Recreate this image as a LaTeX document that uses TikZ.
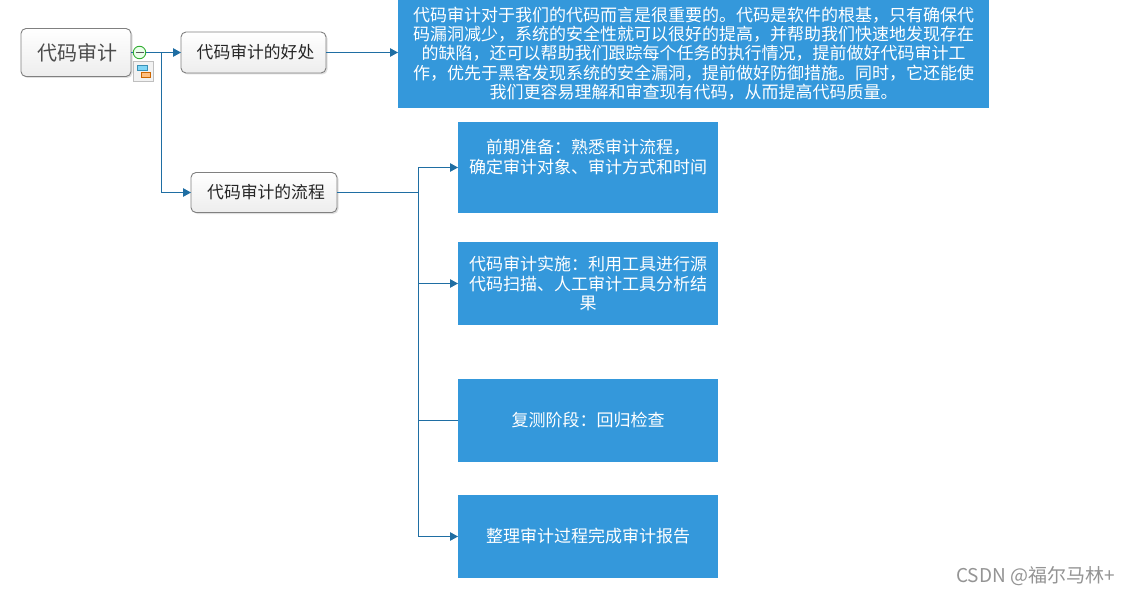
\documentclass[tikz,border=0pt]{standalone}
\usepackage{fontspec}
\setmainfont{Noto Sans CJK SC}
\usetikzlibrary{arrows.meta,shadows}
\definecolor{boxblue}{HTML}{3498DB}
\definecolor{linkblue}{HTML}{1F6EA3}
\newcommand{\fwc}{\symbol{"FF0C}}
\newcommand{\fwk}{\symbol{"FF1A}}
\tikzset{
  conn/.style={draw=linkblue,line width=1.05pt},
  arrowconn/.style={conn,-{Triangle[length=8pt,width=8.5pt]}},
  topic/.style={rectangle,rounded corners=5pt,draw=black!50,line width=0.9pt,
    top color=white,bottom color=black!7,inner sep=0pt,outer sep=0pt,
    drop shadow={shadow xshift=1.5pt,shadow yshift=-1.5pt,fill=black,opacity=0.12},
    text=black!85},
  infobox/.style={rectangle,fill=boxblue,text=white,inner sep=0pt,outer sep=0pt,
    align=center,minimum width=260pt,font=\fontsize{17}{19.3}\selectfont},
}
\begin{document}
\begin{tikzpicture}[x=1pt,y=-1pt]
\useasboundingbox (0,0) rectangle (1130,594);
\fill[white] (0,0) rectangle (1130,594);
% topics
\node[topic,minimum width=110pt,minimum height=48pt,font=\fontsize{20}{22}\selectfont,text=black!70] (root) at (76,52.5) {\hspace*{4pt}代码审计};
\node[topic,minimum width=145pt,minimum height=41pt,font=\fontsize{16.8}{19}\selectfont] (good) at (253.5,52.5) {\hspace*{4pt}代码审计的好处};
\node[topic,minimum width=146pt,minimum height=40pt,font=\fontsize{16.8}{19}\selectfont] (flow) at (264,192.5) {\hspace*{4pt}代码审计的流程};
% info boxes
\node[infobox,minimum width=591pt,minimum height=108pt] (intro) at (693.5,53.5) {代码审计对于我们的代码而言是很重要的。代码是软件的根基\fwc 只有确保代\\码漏洞减少\fwc 系统的安全性就可以很好的提高\fwc 并帮助我们快速地发现存在\\的缺陷\fwc 还可以帮助我们跟踪每个任务的执行情况\fwc 提前做好代码审计工\\作\fwc 优先于黑客发现系统的安全漏洞\fwc 提前做好防御措施。同时\fwc 它还能使\\我们更容易理解和审查现有代码\fwc 从而提高代码质量。};
\node[infobox,minimum height=91pt] (b1) at (588,167.5) {前期准备\fwk 熟悉审计流程\fwc\\确定审计对象、审计方式和时间\\[3pt]\mbox{}};
\node[infobox,minimum height=83pt] (b2) at (588,283.5) {代码审计实施\fwk 利用工具进行源\\代码扫描、人工审计工具分析结\\果};
\node[infobox,minimum height=83pt] (b3) at (588,420.5) {复测阶段\fwk 回归检查};
\node[infobox,minimum height=83pt] (b4) at (588,536.5) {整理审计过程完成审计报告};
% collapse button and map icon
\node[circle,draw=green!60!black!80,fill=green!8,line width=0.9pt,minimum size=12.5pt,inner sep=0pt,outer sep=0pt] (toggle) at (139.5,52.5) {};
\draw[black!65,line width=0.9pt] (135.5,52.5) -- (143.5,52.5);
\node[rectangle,draw=black!25,fill=black!5,minimum width=20pt,minimum height=20pt,inner sep=0pt] (icon) at (143.5,71.5) {};
\fill[cyan!50,draw=cyan!70!black] (137.5,65.5) rectangle (147.5,70.5);
\fill[orange!50,draw=orange!80!black] (141.5,72.5) rectangle (150.5,77.5);
% connectors
\coordinate (fork) at (161.5,52.5);
\coordinate (trunk) at (418.5,192.5);
\draw[conn] (root.east) -- (toggle.west);
\draw[arrowconn] (toggle.east) -- (good.west);
\draw[arrowconn] (fork) |- (flow.west);
\draw[arrowconn] (good.east) -- (good.east -| intro.west);
\draw[conn] (flow.east) -- (trunk);
\draw[arrowconn] (trunk) |- (b1.west);
\draw[arrowconn] (trunk) |- (b2.west);
\draw[conn] (trunk) |- (b3.west);
\draw[arrowconn] (trunk) |- (b4.west);
% watermark
\node[anchor=east,text=black!42,inner sep=0pt,font=\fontsize{19}{21}\selectfont] (mark) at (1115,576) {CSDN @福尔马林+};
\end{tikzpicture}
\end{document}
